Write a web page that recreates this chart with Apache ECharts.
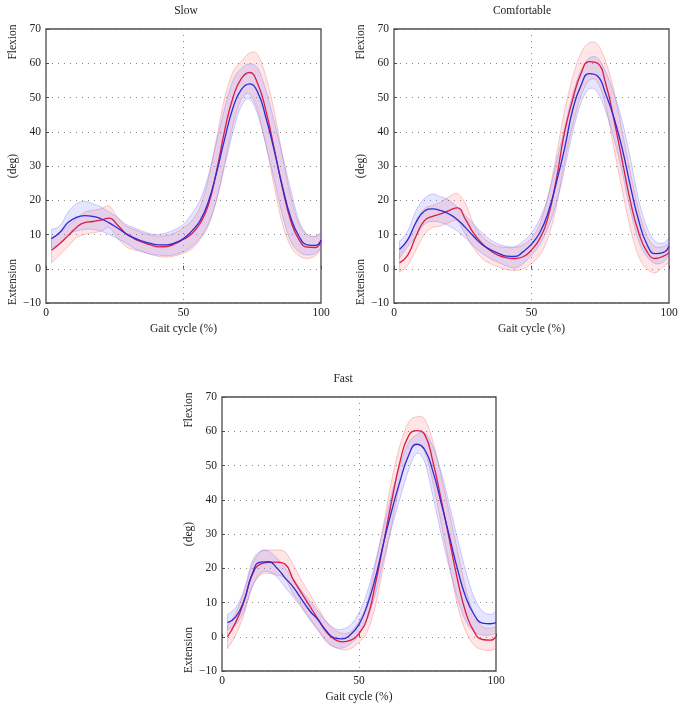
<!DOCTYPE html>
<html>
<head>
<meta charset="utf-8">
<script src="https://cdn.jsdelivr.net/npm/echarts@6/dist/echarts.min.js"></script>
<style>
  html, body { margin: 0; padding: 0; background: #fff; }
  #chart { width: 683px; height: 710px; }
</style>
</head>
<body>
<div id="chart"></div>
<script>
// gait cycle sample points (%)
const pct = [2, 5, 8, 11, 14, 17, 20, 23, 26, 29, 32, 35, 38, 41, 44, 47, 50, 53, 56, 59, 62, 65, 68, 71, 74, 77, 80, 83, 86, 89, 92, 95, 98, 100]

// Slow
const slowRedMean = [5.4, 7.3, 9.6, 12, 13.5, 13.8, 14.2, 14.8, 12.8, 10.3, 8.8, 7.8, 7, 6.4, 6.5, 7.3, 8.6, 10.2, 13.2, 18.5, 28.5, 40.5, 50, 55.5, 57.3, 54, 46, 35, 23.5, 14, 8.5, 6.3, 6.2, 8]
const slowRedLow = [1.7, 4, 6.5, 9, 10, 10.5, 11, 12, 9, 6.5, 5.5, 5, 4.2, 3.6, 3.4, 3.8, 4.5, 5.8, 8.5, 12.5, 20, 31, 42, 49.5, 51, 46, 36, 24, 13, 6.5, 3.8, 3, 3.8, 6]
const slowRedHigh = [9, 10.5, 12.5, 14.5, 16.5, 17, 17.5, 18.3, 15, 12.5, 11.5, 10.5, 9.8, 9.5, 9.7, 10.5, 12, 14, 18, 26, 38, 50, 57.5, 60.5, 63, 62.5, 56, 46, 33, 21, 13, 10, 9.5, 10.5]
const slowBlueMean = [8.8, 10.6, 13.5, 15, 15.5, 15.3, 14.6, 13.4, 11.9, 10.3, 9, 8.1, 7.4, 7, 7, 7.6, 8.8, 11, 14, 19.5, 28, 38, 47, 52.3, 54, 51.5, 44, 34.5, 24, 15, 9.5, 7, 6.8, 8.4]
const slowBlueLow = [6, 7.5, 10, 11, 11.5, 11.5, 11, 10, 8.8, 7.5, 6, 5, 4.2, 4, 3.8, 4.2, 5, 6.5, 9, 13, 20, 30, 40, 47.5, 49.5, 45, 36, 26, 15.5, 8, 5, 4, 4.5, 6]
const slowBlueHigh = [11.5, 12.5, 16.5, 19, 19.7, 19, 18, 16.5, 15, 13, 12, 11, 10.2, 10, 10.5, 11.5, 13, 16, 20, 27, 37, 47, 55, 58.5, 59.8, 58.5, 52, 43, 33, 23, 14, 10, 9.5, 10.5]

// Comfortable
const comfRedMean = [1.7, 4, 9.5, 14, 15.3, 16, 17, 17.8, 14.4, 10.3, 7.4, 5.3, 3.9, 3.2, 3, 3.5, 5.5, 8.8, 15, 26, 39.8, 49.5, 57, 60.5, 60, 54, 43.5, 31.5, 19.5, 10.5, 5, 3, 3.7, 4.7]
const comfRedLow = [-1, 1, 5.5, 10, 12, 12.5, 13.5, 14, 10, 6, 3, 1.5, 0.5, -0.3, -0.5, 0, 1.5, 4, 9, 18, 31, 42, 50.5, 55, 54.5, 47.5, 35, 23, 11.5, 3.5, 0, -1.2, 0.5, 2]
const comfRedHigh = [4.5, 8, 14, 17.5, 18.5, 19.5, 21, 22, 19, 13, 9.5, 7.5, 6.5, 6.2, 6.2, 7, 9, 13, 21, 33, 46, 56, 63, 66, 65.5, 60.5, 52, 40, 28, 17, 9.5, 6.5, 6.5, 7.5]
const comfBlueMean = [5.6, 8.5, 13.5, 16.8, 17.5, 17, 16, 14.4, 12, 9.4, 7.1, 5.6, 4.5, 3.7, 3.6, 5, 7.2, 10.5, 16.3, 25, 35, 46.5, 53.5, 57, 56.3, 51, 44, 35, 24, 14, 7.1, 4.4, 4.8, 6.6]
const comfBlueLow = [3, 6.5, 9.5, 13, 13.8, 13.5, 12.5, 11, 9, 6.5, 4.5, 3, 1.8, 0.8, 0.2, 1.5, 4, 7, 12, 19, 29, 40, 48.5, 52.5, 51.5, 46, 38, 28, 17, 8, 3.5, 1.5, 2, 4]
const comfBlueHigh = [8, 11, 17, 20.5, 21.8, 21, 20, 18, 15.5, 13, 10.5, 8.5, 7.2, 6.5, 6.5, 8, 10.5, 14.5, 21, 31, 41, 51, 58, 61.5, 61.5, 57.5, 51, 43, 32, 20, 12, 8, 7.5, 9]

// Fast
const fastRedMean = [0, 4.2, 10.2, 18, 21.2, 21.7, 21.8, 21.2, 16.7, 12.8, 9, 5.2, 1.5, -0.7, -1.5, -1, 1, 5.5, 15.5, 27.5, 40, 51.2, 58.5, 60.2, 59, 51, 40, 28.3, 16.5, 7, 1.5, -0.8, -1, 0]
const fastRedLow = [-3.5, 0.5, 6.5, 14.5, 18, 18.5, 18, 17, 12.5, 9, 5.5, 2, -1.5, -3, -3.8, -3.5, -1.5, 1.5, 9, 21, 33, 45, 53, 56, 54, 45, 33, 21, 9, 1.5, -2.5, -3.8, -4, -3.5]
const fastRedHigh = [3, 7, 13, 21, 24.8, 25.3, 25.3, 24.8, 21, 16.5, 12.5, 8.5, 4.5, 2, 1, 1.5, 4.5, 10, 21, 33, 46, 56, 62.5, 64.2, 63.5, 57, 47, 36, 25, 14, 6.5, 3, 2.5, 3]
const fastBlueMean = [4.1, 5.8, 10.5, 18.3, 21.8, 21.9, 20.1, 17.2, 14.5, 11, 7.6, 5, 1.8, -0.3, -0.6, 0.7, 3.6, 9.2, 17.3, 27.5, 37, 45.5, 52.7, 56.2, 54.6, 48.2, 39, 29.3, 19.6, 11.5, 6.5, 4, 3.8, 4.1]
const fastBlueLow = [2, 3.5, 7.5, 14.5, 18.5, 19, 17.5, 14.5, 11.5, 8.5, 5, 2, -1, -3, -3.3, -2, 0.5, 5, 12.5, 22.5, 32, 40.5, 48.5, 53.5, 51, 41, 30, 20, 11, 4.5, 1.5, 0.5, 0.5, 1]
const fastBlueHigh = [6.5, 8.5, 13.5, 22, 25, 25, 23, 20, 17, 13.5, 10.5, 7.5, 4.5, 2.5, 2.2, 3.5, 7, 13, 22, 32, 42, 50, 56.5, 59, 59.5, 55.5, 48, 38.5, 28.5, 19, 11.5, 7.5, 6.5, 7.5]

const xTicks = [0, 50, 100]
const yTicks = [-10, 0, 10, 20, 30, 40, 50, 60, 70]

const FONT = '"Liberation Serif", "DejaVu Serif", serif'
const TEXT = "#222"
const RED = "#dc1c44"
const BLUE = "#2b2bd6"

const panels = [
  { title: "Slow", grid: { left: 46, top: 29, width: 275, height: 274 }, titleX: 186,
    red: [slowRedMean, slowRedLow, slowRedHigh], blue: [slowBlueMean, slowBlueLow, slowBlueHigh] },
  { title: "Comfortable", grid: { left: 394, top: 29, width: 275, height: 274 }, titleX: 522,
    red: [comfRedMean, comfRedLow, comfRedHigh], blue: [comfBlueMean, comfBlueLow, comfBlueHigh] },
  { title: "Fast", grid: { left: 222, top: 397, width: 274, height: 274 }, titleX: 343,
    red: [fastRedMean, fastRedLow, fastRedHigh], blue: [fastBlueMean, fastBlueLow, fastBlueHigh] },
]

// Catmull-Rom through screen points -> cubic bezier path segments
function splineSegs(pts) {
  let d = ""
  for (let i = 0; i < pts.length - 1; i++) {
    const p0 = pts[Math.max(i - 1, 0)]
    const p1 = pts[i]
    const p2 = pts[i + 1]
    const p3 = pts[Math.min(i + 2, pts.length - 1)]
    const c1 = [p1[0] + (p2[0] - p0[0]) / 6, p1[1] + (p2[1] - p0[1]) / 6]
    const c2 = [p2[0] - (p3[0] - p1[0]) / 6, p2[1] - (p3[1] - p1[1]) / 6]
    d += ` C${c1[0]},${c1[1]} ${c2[0]},${c2[1]} ${p2[0]},${p2[1]}`
  }
  return d
}

function bandSeries(idx, low, high, fill, edge) {
  return {
    type: "custom",
    xAxisIndex: idx,
    yAxisIndex: idx,
    silent: true,
    clip: true,
    data: [[50, 30]],
    renderItem: (params, api) => {
      const top = pct.map((p, k) => api.coord([p, high[k]]))
      const bot = pct.map((p, k) => api.coord([p, low[k]])).reverse()
      const d = `M${top[0][0]},${top[0][1]}` + splineSegs(top) +
        ` L${bot[0][0]},${bot[0][1]}` + splineSegs(bot) + " Z"
      return { type: "path", shape: { pathData: d }, style: { fill: fill, stroke: edge, lineWidth: 0.8 } }
    },
  }
}

function meanSeries(idx, values, color) {
  return {
    type: "line",
    xAxisIndex: idx,
    yAxisIndex: idx,
    data: pct.map((p, k) => [p, values[k]]),
    smooth: 0.5,
    symbol: "none",
    silent: true,
    lineStyle: { color: color, width: 1.3 },
  }
}

const dotted = { color: "#8a8a8a", width: 1, type: [1, 5] }

const grids = panels.map((p) => ({
  ...p.grid, show: true, borderColor: "#4a4a4a", borderWidth: 1.3, backgroundColor: "#fff",
}))

const xAxes = panels.map((p, i) => ({
  type: "value", gridIndex: i, min: xTicks[0], max: xTicks[xTicks.length - 1], interval: 50,
  axisLine: { show: false },
  axisTick: { show: true, inside: true, length: 3, lineStyle: { color: "#4a4a4a" } },
  axisLabel: { color: TEXT, fontFamily: FONT, fontSize: 11.5, margin: 4 },
  splitLine: { show: true, lineStyle: dotted },
  name: "Gait cycle (%)", nameLocation: "middle", nameGap: 20,
  nameTextStyle: { color: TEXT, fontFamily: FONT, fontSize: 11.5 },
}))

const yAxes = panels.map((p, i) => ({
  type: "value", gridIndex: i, min: yTicks[0], max: yTicks[yTicks.length - 1], interval: 10,
  axisLine: { show: false },
  axisTick: { show: true, inside: true, length: 3, lineStyle: { color: "#4a4a4a" } },
  axisLabel: {
    color: TEXT, fontFamily: FONT, fontSize: 11.5, margin: 5,
    formatter: (v) => (v < 0 ? "\u2212" + Math.abs(v) : String(v)),
  },
  splitLine: { show: true, lineStyle: dotted },
}))

const series = []
panels.forEach((p, i) => {
  series.push(bandSeries(i, p.red[1], p.red[2], "rgba(255, 95, 95, 0.16)", "rgba(235, 110, 110, 0.45)"))
  series.push(bandSeries(i, p.blue[1], p.blue[2], "rgba(95, 95, 255, 0.16)", "rgba(120, 120, 235, 0.45)"))
  series.push(meanSeries(i, p.red[0], RED))
  series.push(meanSeries(i, p.blue[0], BLUE))
})

function label(text, x, y, rotate) {
  return {
    type: "text", x: x, y: y, rotation: rotate ? Math.PI / 2 : 0, silent: true,
    style: {
      text: text, fill: TEXT, font: `11.5px ${FONT}`,
      align: "center", verticalAlign: "middle", textAlign: "center", textVerticalAlign: "middle",
    },
  }
}

const graphics = []
panels.forEach((p) => {
  const g = p.grid
  graphics.push(label(p.title, p.titleX, g.top - 18))
  const lx = g.left - 33
  graphics.push(label("Flexion", lx, g.top + 13, true))
  graphics.push(label("(deg)", lx, g.top + g.height / 2, true))
  graphics.push(label("Extension", lx, g.top + 253, true))
})

const chart = echarts.init(document.getElementById("chart"), null, { renderer: "canvas" })
chart.setOption({
  animation: false,
  backgroundColor: "#fff",
  grid: grids,
  xAxis: xAxes,
  yAxis: yAxes,
  series: series,
  graphic: graphics,
})
</script>
</body>
</html>
